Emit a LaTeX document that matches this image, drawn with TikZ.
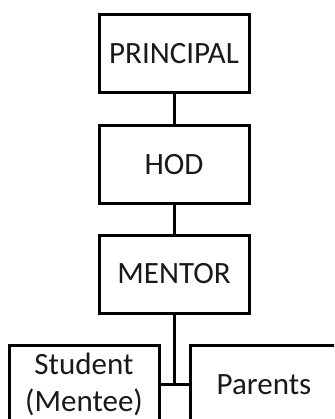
\documentclass[tikz,border=0pt]{standalone}
\usepackage{fontspec}
\setmainfont{Carlito}
\begin{document}
\begin{tikzpicture}[x=1pt,y=1pt,
  box/.style={draw=black, line width=3pt, minimum width=150pt, minimum height=78pt, inner sep=0pt, align=center, font=\fontsize{31}{37}\selectfont, text=black!90},
  link/.style={draw=black, line width=3pt}]
\useasboundingbox (0,0) rectangle (334,-419);
\clip (0,0) rectangle (334,-419);
\node[box] (principal) at (174,-54) {PRINCIPAL};
\node[box] (hod) at (174,-164.5) {HOD};
\node[box] (mentor) at (174,-274) {MENTOR};
\node[box] (student) at (84,-384.5) {Student\\(Mentee)};
\node[box, minimum width=148pt] (parents) at (264,-384.5) {Parents};
\coordinate (j) at (mentor.south |- student.east);
\draw[link] (principal) -- (hod);
\draw[link] (hod) -- (mentor);
\draw[link] (mentor) -- (j);
\draw[link] (student.east) -- (parents.west);
\end{tikzpicture}
\end{document}
